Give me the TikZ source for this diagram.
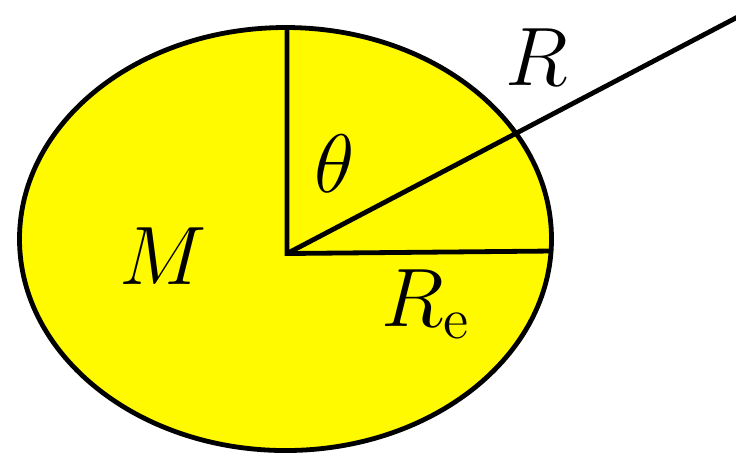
\documentclass[tikz,border=0pt]{standalone}
\usetikzlibrary{calc}
\definecolor{fillyellow}{RGB}{255,250,0}
\begin{document}
\begin{tikzpicture}[x=0.25pt,y=-0.25pt,
  edge/.style={line width=1.2pt},
  lbl/.style={font=\fontsize{19.4}{23}\selectfont,inner sep=0pt}]
\useasboundingbox (0,0) rectangle (736,455);
\clip (0,0) rectangle (736,455);
\coordinate (C) at (285.5,239);
\draw[edge,fill=fillyellow] (C) ellipse [x radius=266, y radius=211.5];
\coordinate (O) at (287,253.5);
\coordinate (top) at (287,28);
\coordinate (east) at (551,251);
\coordinate (far) at (770,0);
\draw[edge] (top) -- (O) -- (east);
\draw[edge] (O) -- (far);
\node[lbl] (Rlab) at (537,57) {$R$};
\node[lbl] (thlab) at (335,164) {$\theta$};
\node[lbl] (Mlab) at (163,256) {$M$};
\node[lbl,anchor=base west] (Relab) at (381,326) {$R_{\mathrm{e}}$};
\end{tikzpicture}
\end{document}
